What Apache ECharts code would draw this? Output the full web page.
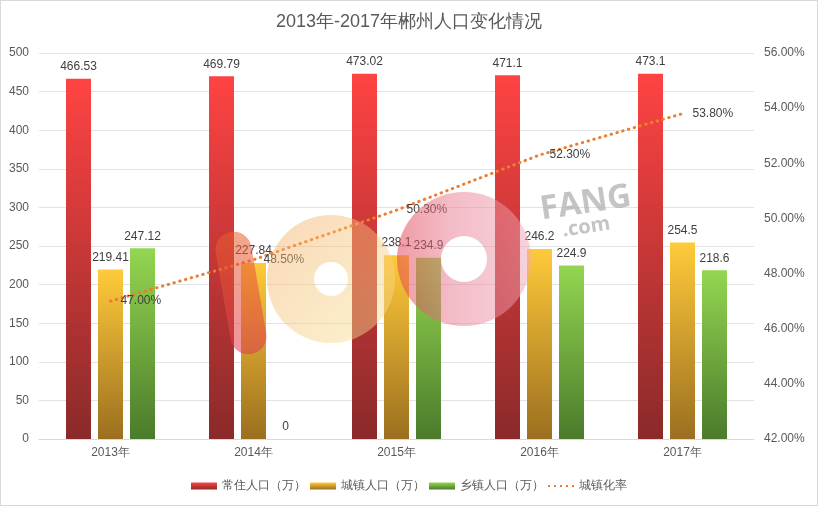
<!DOCTYPE html>
<html><head><meta charset="utf-8">
<script src="https://cdn.jsdelivr.net/npm/echarts@6/dist/echarts.min.js"></script>
<style>html,body{margin:0;padding:0;background:#fff}#c{width:816px;height:504px;border:1px solid #d9d9d9}</style>
</head><body><div id="c"></div>
<script>
var years = ['2013年','2014年','2015年','2016年','2017年'];
var resident = [466.53, 469.79, 473.02, 471.1, 473.1];
var urban = [219.41, 227.84, 238.1, 246.2, 254.5];
var rural = [247.12, 0, 234.9, 224.9, 218.6];
var urbanRate = [47.00, 48.50, 50.30, 52.30, 53.80];
var names = ['常住人口（万）','城镇人口（万）','乡镇人口（万）','城镇化率'];

function grad(top, bottom){
  return new echarts.graphic.LinearGradient(0,0,0,1,[{offset:0,color:top},{offset:1,color:bottom}]);
}
var chart = echarts.init(document.getElementById('c'));
var lbl = {show:true, position:'top', color:'#404040', fontSize:12, distance:6};
var dotIcon = 'path://M0,0h2v2h-2z M6,0h2v2h-2z M12,0h2v2h-2z M18,0h2v2h-2z M24,0h2v2h-2z';
chart.setOption({
  title:{text:'2013年-2017年郴州人口变化情况', left:'center', top:7, textStyle:{fontSize:18, fontWeight:'normal', color:'#595959'}},
  legend:{bottom:8, itemWidth:26, itemHeight:7, itemGap:4, textStyle:{color:'#595959', fontSize:12},
    data:[{name:names[0], icon:'rect'},{name:names[1], icon:'rect'},{name:names[2], icon:'rect'},{name:names[3], icon:dotIcon, itemStyle:{color:'#ed7d31'}}]},
  grid:{left:38, right:63, top:52, bottom:66},
  xAxis:{type:'category', data:years, axisLine:{lineStyle:{color:'#d9d9d9'}}, axisTick:{show:false}, axisLabel:{color:'#595959', fontSize:12}},
  yAxis:[
    {type:'value', min:0, max:500, interval:50, axisLine:{show:false}, axisTick:{show:false}, axisLabel:{color:'#595959', fontSize:12, margin:10}, splitLine:{lineStyle:{color:'#e3e3e3'}}},
    {type:'value', min:42, max:56, interval:2, axisLine:{show:false}, axisTick:{show:false}, splitLine:{show:false}, axisLabel:{color:'#595959', fontSize:12, formatter:function(v){return v.toFixed(2)+'%';}, margin:10}}
  ],
  graphic:[
    {type:'ring', z:100, x:330, y:278, shape:{r:64, r0:17}, style:{fill:new echarts.graphic.LinearGradient(0,0,1,1,[{offset:0,color:'#f3a860'},{offset:1,color:'#f8e696'}]), opacity:0.45}, silent:true},
    {type:'ring', z:100, x:463, y:258, shape:{r:67, r0:23}, style:{fill:new echarts.graphic.LinearGradient(0,0,1,0,[{offset:0,color:'#e03a4a'},{offset:0.4,color:'#e87a90'},{offset:1,color:'#f0a8b8'}]), opacity:0.5}, silent:true},
    {type:'rect', z:101, x:240, y:292, rotation:0.17, shape:{x:-18, y:-62, width:36, height:124, r:18}, style:{fill:new echarts.graphic.LinearGradient(0,0,0,1,[{offset:0,color:'#e8602a'},{offset:1,color:'#e23a50'}]), opacity:0.55}, silent:true},
    {type:'text', z:101, x:537, y:193, rotation:0.15, style:{text:'FANG', fontSize:33, fontWeight:'bold', fill:'#b0b0b0', opacity:0.75, fontFamily:'Open Sans, sans-serif'}, silent:true},
    {type:'text', z:101, x:560, y:220, rotation:0.15, style:{text:'.com', fontSize:20, fontWeight:'bold', fill:'#b0b0b0', opacity:0.75, fontFamily:'Open Sans, sans-serif'}, silent:true}
  ],
  series:[
    {name:names[0], type:'bar', data:resident, barWidth:25, barGap:'28%', itemStyle:{color:grad('#ff4343','#8a2a2a')}, label:lbl},
    {name:names[1], type:'bar', data:urban, barWidth:25, itemStyle:{color:grad('#ffca3a','#9b6f1f')}, label:lbl},
    {name:names[2], type:'bar', data:rural, barWidth:25, itemStyle:{color:grad('#94d651','#4b7b2b')}, label:lbl},
    {name:names[3], type:'line', yAxisIndex:1, data:urbanRate, symbol:'circle', symbolSize:0, showSymbol:true, lineStyle:{color:'#ed7d31', width:3, type:[0.5,5.5], cap:'round'}, itemStyle:{color:'#ed7d31'},
      label:{show:true, position:'right', color:'#404040', fontSize:12, distance:10, formatter:function(p){return p.value.toFixed(2)+'%';}}}
  ]
});
</script></body></html>
